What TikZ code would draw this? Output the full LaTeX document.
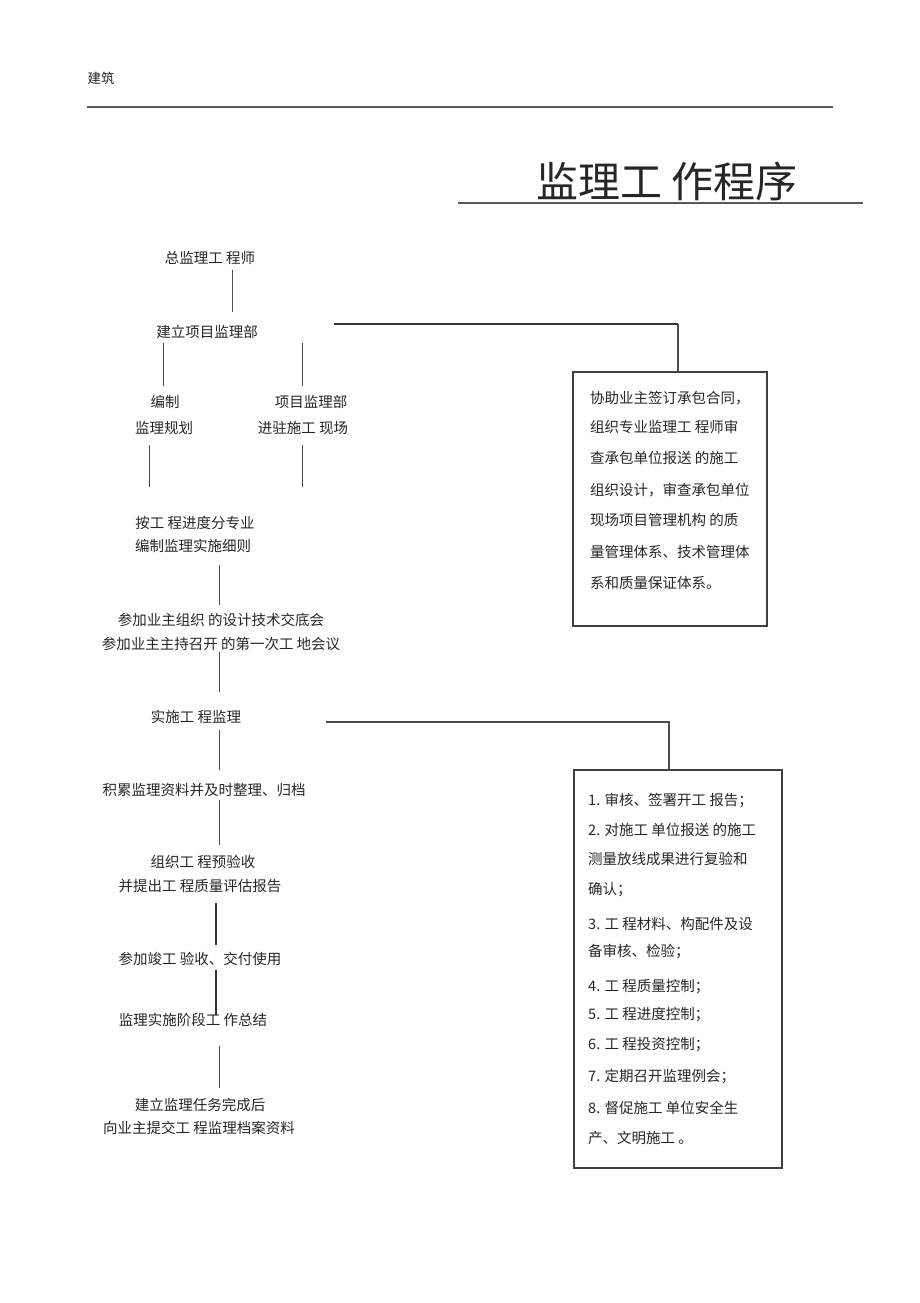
\documentclass[tikz,border=0pt]{standalone}
\usepackage{fontspec}
\newfontfamily\cjk{Noto Sans CJK SC}
\usepackage{tikz}

\tikzset{
  flow/.style={font=\cjk\fontsize{14.5}{17}\selectfont, text=black!85,
    inner sep=0pt, text height=13pt, text depth=1pt},
  boxtext/.style={flow, anchor=west},
  link/.style={draw=black!70, line width=1pt},
  heavy/.style={draw=black!80, line width=2.6pt},
  frame/.style={draw=black!75, line width=1.6pt},
  rule/.style={draw=black!65, line width=1.4pt}
}

\begin{document}
\begin{tikzpicture}[x=1pt,y=-1pt]
\useasboundingbox (0,0) rectangle (920,1303);

\node[flow, font=\cjk\fontsize{13.5}{16}\selectfont] (hd) at (101,78) {建筑};
\draw[rule] (87,107) -- (833,107);
\node[font=\cjk\fontsize{42}{46}\selectfont, text=black!85, inner sep=0pt] (title) at (667,181) {监理工 作程序};
\draw[rule] (458,203) -- (863,203);

\node[flow] (zong)  at (210,257)  {总监理工 程师};
\node[flow] (jianli) at (207,331) {建立项目监理部};
\node[flow] (bz1)   at (165,401)  {编制};
\node[flow] (bz2)   at (164,427)  {监理规划};
\node[flow] (xm1)   at (311,401)  {项目监理部};
\node[flow] (xm2)   at (303,427)  {进驻施工 现场};
\node[flow] (aj1)   at (195,522)  {按工 程进度分专业};
\node[flow] (aj2)   at (193,545)  {编制监理实施细则};
\node[flow] (cj1)   at (221,619)  {参加业主组织 的设计技术交底会};
\node[flow] (cj2)   at (221,643)  {参加业主主持召开 的第一次工 地会议};
\node[flow] (ss)    at (196,716)  {实施工 程监理};
\node[flow] (jl)    at (204,789)  {积累监理资料并及时整理、归档};
\node[flow] (zz1)   at (203,861)  {组织工 程预验收};
\node[flow] (zz2)   at (200,885)  {并提出工 程质量评估报告};
\node[flow] (jg)    at (200,958)  {参加竣工 验收、交付使用};
\node[flow] (zj)    at (193,1019) {监理实施阶段工 作总结};
\node[flow] (jw1)   at (200,1104) {建立监理任务完成后};
\node[flow] (jw2)   at (199,1127) {向业主提交工 程监理档案资料};

\node[frame, minimum width=194pt, minimum height=254pt] (box1) at (670,499) {};
\foreach \y/\t [count=\i] in {397/{协助业主签订承包合同，}, 426/{组织专业监理工 程师审},
  457/{查承包单位报送 的施工}, 489/{组织设计，审查承包单位}, 519/{现场项目管理机构 的质},
  551/{量管理体系、技术管理体}, 582/{系和质量保证体系。}}
  \node[boxtext] (p\i) at (590,\y) {\t};

\node[frame, minimum width=208pt, minimum height=398pt] (box2) at (678,969) {};
\foreach \y/\t [count=\i] in {799/{1. 审核、签署开工 报告；}, 829/{2. 对施工 单位报送 的施工},
  858/{测量放线成果进行复验和}, 888/{确认；}, 923/{3. 工 程材料、构配件及设},
  950/{备审核、检验；}, 985/{4. 工 程质量控制；}, 1013/{5. 工 程进度控制；},
  1043/{6. 工 程投资控制；}, 1075/{7. 定期召开监理例会；}, 1107/{8. 督促施工 单位安全生},
  1137/{产、文明施工 。}}
  \node[boxtext] (q\i) at (588,\y) {\t};

\coordinate (xa) at (232,0);
\coordinate (xb) at (163,0);
\coordinate (xc) at (302,0);
\coordinate (xd) at (149,0);
\coordinate (xe) at (219,0);
\coordinate (xf) at (216,0);

\draw[link, shorten <=6pt, shorten >=12pt] (zong.south -| xa) -- (jianli.north -| xa);
\draw[link, shorten <=5pt, shorten >=8pt] (jianli.south -| xb) -- (bz1.north -| xb);
\draw[link, shorten <=5pt, shorten >=8pt] (jianli.south -| xc) -- (xm1.north -| xc);
\draw[link, shorten <=11pt, shorten >=28pt] (bz2.south -| xd) -- (aj1.north -| xd);
\draw[link, shorten <=11pt, shorten >=28pt] (xm2.south -| xc) -- (aj1.north -| xc);
\draw[link, shorten <=13pt, shorten >=7pt] (aj2.south -| xe) -- (cj1.north -| xe);
\draw[link, shorten <=2pt, shorten >=17pt] (cj2.south -| xe) -- (ss.north -| xe);
\draw[link, shorten <=7pt, shorten >=12pt] (ss.south -| xe) -- (jl.north -| xe);
\draw[link, shorten <=4pt, shorten >=9pt] (jl.south -| xe) -- (zz1.north -| xe);
\draw[heavy, shorten <=11pt, shorten >=6pt] (zz2.south -| xf) -- (jg.north -| xf);
\draw[heavy, shorten <=5pt, shorten >=-3pt] (jg.south -| xf) -- (zj.north -| xf);
\draw[link, shorten <=20pt, shorten >=9pt] (zj.south -| xe) -- (jw1.north -| xe);

\coordinate (k1) at (678,324);
\draw[heavy] ([shift={(127,-7)}]jianli.center) -- (k1);
\draw[link, line width=1.6pt] (k1) -- (box1.north -| k1);
\coordinate (k2) at (669,722);
\draw[link, line width=1.4pt] ([shift={(130,6)}]ss.center) -- (k2) -- (box2.north -| k2);
\end{tikzpicture}
\end{document}
